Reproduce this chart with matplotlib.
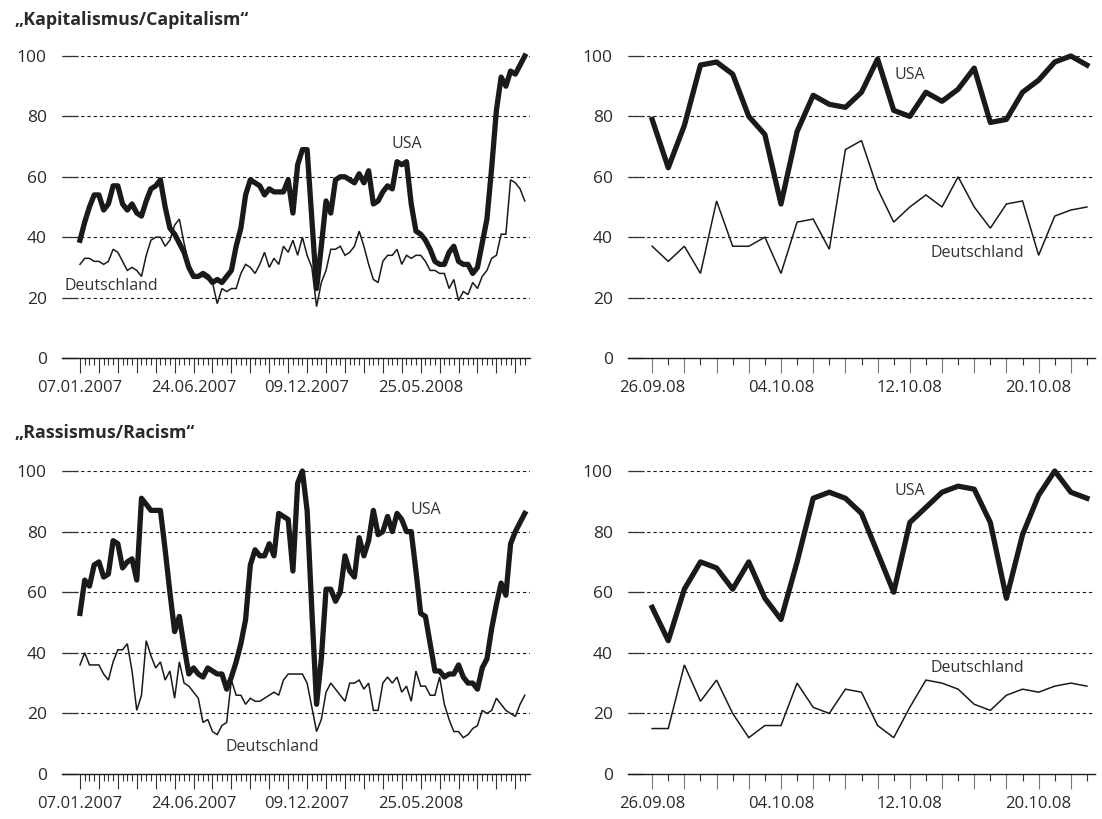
import matplotlib.pyplot as plt
import pandas as pd

plt.rcParams['font.family'] = ['Open Sans', 'DejaVu Sans']

# weekly series 07.01.2007 - 26.10.2008, daily series 26.09.08 - 23.10.08
weeks = pd.date_range('2007-01-07', periods=95, freq='7D')
days = pd.date_range('2008-09-26', periods=28, freq='D')

kap_usa_w = [39, 45, 50, 54, 54, 49, 51, 57, 57, 51,
             49, 51, 48, 47, 52, 56, 57, 59, 50, 43,
             41, 38, 35, 30, 27, 27, 28, 27, 25, 26,
             25, 27, 29, 37, 43, 54, 59, 58, 57, 54,
             56, 55, 55, 55, 59, 48, 64, 69, 69, 46,
             23, 37, 52, 48, 59, 60, 60, 59, 58, 61,
             58, 62, 51, 52, 55, 57, 56, 65, 64, 65,
             51, 42, 41, 39, 36, 32, 31, 31, 35, 37,
             32, 31, 31, 28, 30, 38, 46, 63, 82, 93,
             90, 95, 94, 97, 100]
kap_de_w = [31, 33, 33, 32, 32, 31, 32, 36, 35, 32,
            29, 30, 29, 27, 34, 39, 40, 40, 37, 39,
            44, 46, 38, 31, 28, 27, 27, 26, 25, 18,
            23, 22, 23, 23, 28, 31, 30, 28, 31, 35,
            30, 33, 31, 37, 35, 39, 34, 40, 34, 30,
            17, 25, 29, 36, 36, 37, 34, 35, 37, 42,
            37, 31, 26, 25, 32, 34, 34, 36, 31, 34,
            33, 34, 34, 32, 29, 29, 28, 28, 23, 26,
            19, 22, 21, 25, 23, 27, 29, 33, 34, 41,
            41, 59, 58, 56, 52]
ras_usa_w = [53, 64, 62, 69, 70, 65, 66, 77, 76, 68,
             70, 71, 64, 91, 89, 87, 87, 87, 74, 60,
             47, 52, 42, 33, 35, 33, 32, 35, 34, 33,
             33, 28, 32, 37, 43, 51, 69, 74, 72, 72,
             76, 72, 86, 85, 84, 67, 96, 100, 87, 54,
             23, 38, 61, 61, 57, 60, 72, 67, 65, 78,
             72, 77, 87, 79, 80, 85, 80, 86, 84, 80,
             80, 67, 53, 52, 43, 34, 34, 32, 33, 33,
             36, 32, 30, 30, 28, 35, 38, 48, 56, 63,
             59, 76, 80, 83, 86]
ras_de_w = [36, 40, 36, 36, 36, 33, 31, 37, 41, 41,
            43, 34, 21, 26, 44, 39, 35, 37, 31, 34,
            25, 37, 30, 29, 27, 25, 17, 18, 14, 13,
            16, 17, 31, 26, 26, 23, 25, 24, 24, 25,
            26, 27, 26, 31, 33, 33, 33, 33, 30, 22,
            14, 18, 27, 30, 28, 26, 24, 30, 30, 31,
            28, 30, 21, 21, 30, 32, 30, 32, 27, 29,
            24, 34, 29, 29, 26, 26, 32, 23, 18, 14,
            14, 12, 13, 15, 16, 21, 20, 21, 25, 23,
            21, 20, 19, 23, 26]

kap_usa_d = [79, 63, 77, 97, 98, 94, 80, 74, 51, 75, 87, 84, 83, 88,
             99, 82, 80, 88, 85, 89, 96, 78, 79, 88, 92, 98, 100, 97]
kap_de_d = [37, 32, 37, 28, 52, 37, 37, 40, 28, 45, 46, 36, 69, 72,
            56, 45, 50, 54, 50, 60, 50, 43, 51, 52, 34, 47, 49, 50]
ras_usa_d = [55, 44, 61, 70, 68, 61, 70, 58, 51, 70, 91, 93, 91, 86,
             73, 60, 83, 88, 93, 95, 94, 83, 58, 79, 92, 100, 93, 91]
ras_de_d = [15, 15, 36, 24, 31, 20, 12, 16, 16, 30, 22, 20, 28, 27,
            16, 12, 22, 31, 30, 28, 23, 21, 26, 28, 27, 29, 30, 29]

week_label_idx = [0, 24, 48, 72]
day_label_idx = [0, 8, 16, 24]

W, H = 1102, 819
fig = plt.figure(figsize=(W / 100, H / 100), dpi=100)

def make_ax(x0, x1, y0, y100):
    return fig.add_axes([x0 / W, 1 - y0 / H, (x1 - x0) / W, (y0 - y100) / H])

ink = '#1a1a1a'
txt = '#2a2a2a'

def style(ax, n, weekly):
    ax.set_ylim(0, 100)
    for s in ['left', 'right', 'top']:
        ax.spines[s].set_visible(False)
    ax.spines['bottom'].set_color(ink)
    ax.spines['bottom'].set_linewidth(1.0)
    for v in range(20, 101, 20):
        ax.axhline(v, color=ink, lw=0.8, ls=(0, (3, 2.6)), zorder=1)
    ax.set_yticks(range(0, 101, 20))
    ax.tick_params(axis='y', direction='in', length=11.5, width=0.9,
                   color='#333333', pad=11, labelsize=12.5, labelcolor=txt)
    if weekly:
        ax.set_xlim(-3.8, 95.1)
        major = list(range(0, n, 4))
        labels = [weeks[i].strftime('%d.%m.%Y') if i in week_label_idx else '' for i in major]
        ax.set_xticks(major, labels)
        ax.set_xticks(range(n), minor=True)
        ax.tick_params(axis='x', which='major', length=11, width=0.8, color='#333333')
    else:
        ax.set_xlim(-1.5, 27.5)
        major = list(range(0, n, 2))
        labels = [days[i].strftime('%d.%m.%y') if i in day_label_idx else '' for i in major]
        ax.set_xticks(major, labels)
        ax.set_xticks(range(n), minor=True)
        ax.tick_params(axis='x', which='major', length=11, width=0.8, color='#777777')
    ax.tick_params(axis='x', which='minor', length=5, width=0.8, color='#333333')
    ax.tick_params(axis='x', which='major', labelsize=12, labelcolor=txt, pad=4.5)

def draw(ax, usa, de):
    x = range(len(usa))
    ax.plot(x, de, color=ink, lw=1.1, zorder=3, clip_on=False, solid_joinstyle='miter')
    ax.plot(x, usa, color=ink, lw=3.8, zorder=4, clip_on=False, solid_joinstyle='round')

ax1 = make_ax(62, 530, 358, 56)
ax2 = make_ax(628, 1095, 358, 56)
ax3 = make_ax(62, 530, 774, 471)
ax4 = make_ax(628, 1095, 774, 471)

draw(ax1, kap_usa_w, kap_de_w)
draw(ax2, kap_usa_d, kap_de_d)
draw(ax3, ras_usa_w, ras_de_w)
draw(ax4, ras_usa_d, ras_de_d)
style(ax1, 95, True)
style(ax2, 28, False)
style(ax3, 95, True)
style(ax4, 28, False)

lab = dict(fontsize=11.5, color='#333333', va='center')
ax1.text(69, 71, 'USA', ha='center', **lab)
ax1.text(-3.2, 24, 'Deutschland', ha='left', **lab)
ax2.text(16, 93.7, 'USA', ha='center', **lab)
ax2.text(20.2, 34.8, 'Deutschland', ha='center', **lab)
ax3.text(73, 87, 'USA', ha='center', **lab)
ax3.text(40.6, 9, 'Deutschland', ha='center', **lab)
ax4.text(16, 93.4, 'USA', ha='center', **lab)
ax4.text(20.2, 35, 'Deutschland', ha='center', **lab)

fig.text(14 / W, 1 - 20 / H, '„Kapitalismus/Capitalism“', fontsize=12.8, fontweight='bold',
         color=txt, va='center', ha='left')
fig.text(14 / W, 1 - 433 / H, '„Rassismus/Racism“', fontsize=12.8, fontweight='bold',
         color=txt, va='center', ha='left')

fig.savefig('out.png', dpi=100)
